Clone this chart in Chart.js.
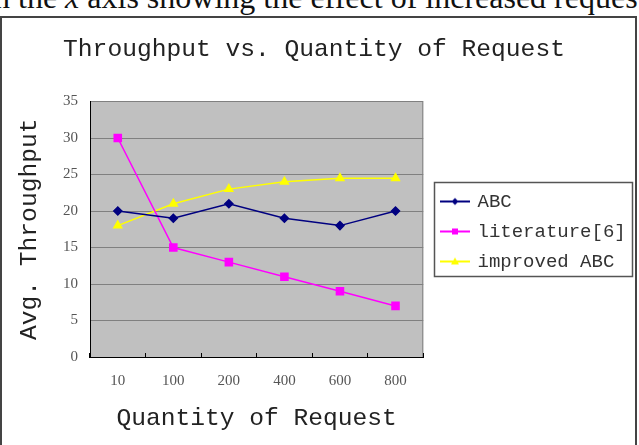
<!DOCTYPE html>
<html>
<head>
<meta charset="utf-8">
<title>Throughput vs. Quantity of Request</title>
<script src="https://cdn.jsdelivr.net/npm/chart.js@4/dist/chart.umd.min.js"></script>
<style>
  html, body { margin: 0; padding: 0; background: #fff; overflow: hidden; }
  body { position: relative; width: 639px; height: 445px; }
  .caption {
    position: absolute; left: -6px; top: -19px;
    font: 32px/32px "Liberation Serif", serif; color: #111; white-space: nowrap;
  }
  .frame {
    position: absolute; left: 0; top: 16px; width: 633px; height: 440px;
    border: 2px solid #444;
  }
  #throughputChart { position: absolute; left: 0; top: 0; }
</style>
</head>
<body>
<div class="caption">n the <i>x</i> axis showing the effect of increased request</div>
<div class="frame"></div>
<canvas id="throughputChart" width="639" height="445"></canvas>
<script>
// Data
const quantities = ['10', '100', '200', '400', '600', '800'];
const abcValues = [20, 19, 21, 19, 18, 20];
const literatureValues = [30, 15, 13, 11, 9, 7];
const improvedValues = [18, 21, 23, 24, 24.5, 24.5];
const yTicks = [0, 5, 10, 15, 20, 25, 30, 35];

const monoFont = 'Liberation Mono, monospace';
const serifFont = 'Liberation Serif, serif';

// little line + marker picture used as legend symbol
function makeSwatch(color, shape) {
    const c = document.createElement('canvas');
    c.width = 30;
    c.height = 12;
    const g = c.getContext('2d');
    g.strokeStyle = color;
    g.fillStyle = color;
    g.lineWidth = 2;
    g.beginPath();
    g.moveTo(0, 6);
    g.lineTo(30, 6);
    g.stroke();
    g.beginPath();
    if (shape === 'rectRot') {
        g.moveTo(15, 2.5); g.lineTo(18.5, 6); g.lineTo(15, 9.5); g.lineTo(11.5, 6);
    } else if (shape === 'rect') {
        g.rect(12, 3, 6, 6);
    } else {
        g.moveTo(15, 2); g.lineTo(19, 9); g.lineTo(11, 9);
    }
    g.closePath();
    g.fill();
    return c;
}

const series = [
    { label: 'ABC', data: abcValues, color: '#000080', shape: 'rectRot', radius: 4 },
    { label: 'literature[6]', data: literatureValues, color: '#ff00ff', shape: 'rect', radius: 5 },
    { label: 'improved ABC', data: improvedValues, color: '#ffff00', shape: 'triangle', radius: 4.5 },
];
const swatches = series.map(s => makeSwatch(s.color, s.shape));

// grey plot area with grey right edge
const plotBackground = {
    id: 'plotBackground',
    beforeDraw(chart) {
        const { ctx, chartArea: a } = chart;
        ctx.save();
        ctx.fillStyle = '#c0c0c0';
        ctx.fillRect(a.left, a.top, a.right - a.left, a.bottom - a.top);
        ctx.strokeStyle = '#808080';
        ctx.lineWidth = 1;
        ctx.beginPath();
        ctx.moveTo(a.right - 0.5, a.top);
        ctx.lineTo(a.right - 0.5, a.bottom);
        ctx.stroke();
        ctx.restore();
    }
};

// move legend into its box and draw the box border
const legendBox = {
    id: 'legendBox',
    afterLayout(chart) {
        const l = chart.legend;
        l.left = 431;
        l.top = 181;
        l.bottom = 330;
    },
    afterDraw(chart) {
        const ctx = chart.ctx;
        ctx.save();
        ctx.strokeStyle = '#555';
        ctx.lineWidth = 1.5;
        ctx.strokeRect(434.5, 182.5, 198, 94);
        ctx.restore();
    }
};

const chartData = {
    labels: quantities,
    datasets: series.map(s => ({
        label: s.label,
        data: s.data,
        borderColor: s.color,
        backgroundColor: s.color,
        pointBorderColor: s.color,
        pointBackgroundColor: s.color,
        borderWidth: 1.5,
        pointStyle: s.shape,
        pointRadius: s.radius,
        pointHoverRadius: s.radius,
        tension: 0,
    }))
};

const chartOptions = {
    responsive: false,
    animation: false,
    devicePixelRatio: 1,
    layout: { padding: { left: 0, right: 11, top: 0, bottom: 0 } },
    scales: {
        x: {
            type: 'category',
            offset: true,
            grid: {
                display: true,
                offset: true,
                drawOnChartArea: false,
                drawTicks: true,
                tickLength: -4,
                color: '#000',
                tickColor: '#000',
            },
            border: { color: '#000', width: 1 },
            ticks: {
                color: '#555',
                font: { family: serifFont, size: 15 },
                padding: 19.5,
                maxRotation: 0,
                autoSkip: false,
            },
            title: {
                display: true,
                text: 'Quantity of Request',
                color: '#222',
                font: { family: monoFont, size: 24.6 },
                padding: { top: 0, bottom: 12 },
            },
            afterFit(scale) { scale.height = 88; }
        },
        y: {
            min: yTicks[0],
            max: yTicks[yTicks.length - 1],
            ticks: {
                stepSize: yTicks[1] - yTicks[0],
                color: '#555',
                font: { family: serifFont, size: 15 },
                padding: 12,
            },
            grid: { color: '#808080', drawTicks: false },
            border: { color: '#000', width: 1 },
            title: {
                display: true,
                text: 'Avg. Throughput',
                color: '#222',
                font: { family: monoFont, size: 24.6 },
                padding: { top: 14.7, bottom: 0 },
            },
            afterFit(scale) { scale.width = 90; }
        }
    },
    plugins: {
        title: {
            display: true,
            text: 'Throughput vs. Quantity of Request',
            color: '#222',
            font: { family: monoFont, size: 24.6, weight: 'normal' },
            padding: { top: 35, bottom: 37 },
        },
        legend: {
            position: 'right',
            align: 'start',
            maxWidth: 220,
            labels: {
                usePointStyle: true,
                pointStyleWidth: 26,
                padding: 11,
                color: '#333',
                font: { family: monoFont, size: 19 },
                generateLabels(chart) {
                    return chart.data.datasets.map((ds, i) => ({
                        text: ds.label,
                        pointStyle: swatches[i],
                        fillStyle: ds.borderColor,
                        strokeStyle: ds.borderColor,
                        lineWidth: 0,
                        hidden: false,
                        fontColor: '#333',
                        datasetIndex: i,
                    }));
                }
            }
        },
        tooltip: { enabled: false }
    }
};

const ctx = document.getElementById('throughputChart').getContext('2d');
const throughputChart = new Chart(ctx, {
    type: 'line',
    data: chartData,
    options: chartOptions,
    plugins: [plotBackground, legendBox],
});
</script>
</body>
</html>
